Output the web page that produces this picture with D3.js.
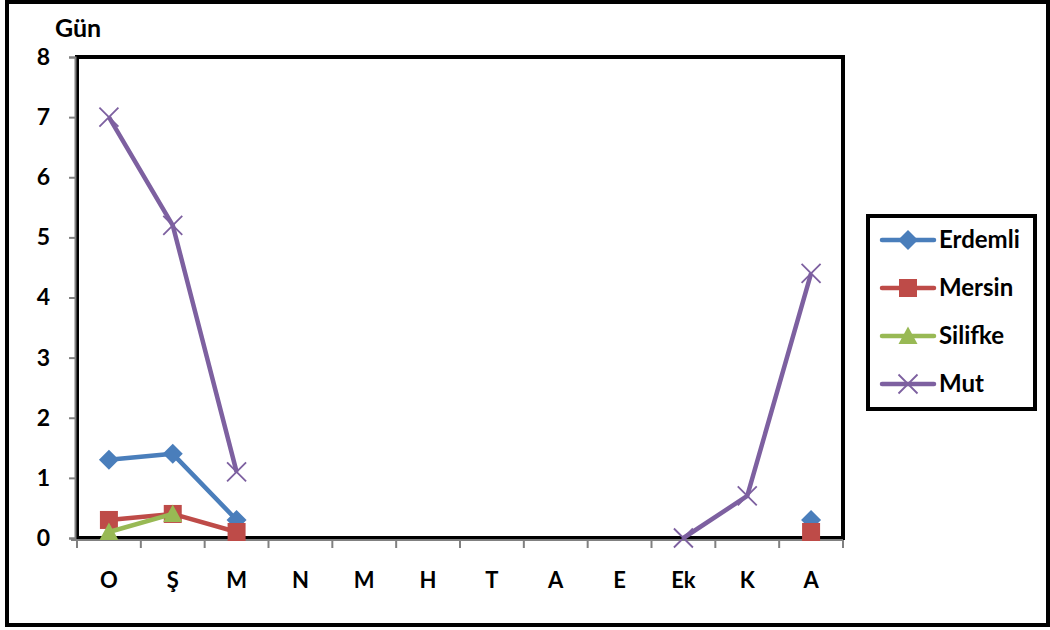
<!DOCTYPE html>
<html>
<head>
<meta charset="utf-8">
<script src="https://cdn.jsdelivr.net/npm/d3@7"></script>
<style>
  html, body { margin: 0; padding: 0; background: #fff; }
  svg { display: block; font-family: Lato, "Open Sans", "DejaVu Sans", sans-serif; font-weight: bold; }
</style>
</head>
<body>
<svg id="chart" width="1050" height="630"></svg>
<script>
// Months (Ekim..Eylül order as shown on the axis)
const months = ["O", "Ş", "M", "N", "M", "H", "T", "A", "E", "Ek", "K", "A"];
const yTicks = [0, 1, 2, 3, 4, 5, 6, 7, 8];

// Days per month for each station (null = no value)
const erdemli = [1.3, 1.4, 0.3, null, null, null, null, null, null, null, null, 0.3];
const mersin  = [0.3, 0.4, 0.1, null, null, null, null, null, null, null, null, 0.1];
const silifke = [0.1, 0.4, null, null, null, null, null, null, null, null, null, null];
const mut     = [7, 5.2, 1.1, null, null, null, null, null, null, 0, 0.7, 4.4];

const seriesNames = ["Erdemli", "Mersin", "Silifke", "Mut"];
const seriesValues = [erdemli, mersin, silifke, mut];
const seriesColors = ["#4a7ebb", "#be4b48", "#98b954", "#7d60a0"];
const seriesMarkers = ["diamond", "square", "triangle", "cross"];

const svg = d3.select("#chart");
const plot = { left: 77, top: 57, right: 843, bottom: 538 };
const FONT = "Lato, 'Open Sans', sans-serif";

// Outer frame
svg.append("rect").attr("x", 7).attr("y", 2).attr("width", 1041).attr("height", 623)
  .attr("fill", "#fff").attr("stroke", "#000").attr("stroke-width", 4);

const x = d3.scaleBand().domain(d3.range(months.length)).range([plot.left, plot.right]);
const y = d3.scaleLinear().domain([0, 8]).range([plot.bottom, plot.top]);

// Plot area border
svg.append("rect").attr("x", plot.left).attr("y", plot.top)
  .attr("width", plot.right - plot.left).attr("height", plot.bottom - plot.top)
  .attr("fill", "none").attr("stroke", "#000").attr("stroke-width", 4);

// Y axis
const yAxis = svg.append("g").attr("transform", `translate(${plot.left - 2},0)`)
  .call(d3.axisLeft(y).tickValues(yTicks).tickSize(6).tickPadding(19).tickFormat(d3.format("d")));
yAxis.select(".domain").attr("stroke", "#808080").attr("stroke-width", 2);
yAxis.selectAll(".tick line").attr("stroke", "#808080").attr("stroke-width", 2);
yAxis.selectAll("text").attr("font-size", 23).attr("font-weight", "bold")
  .attr("font-family", FONT).attr("fill", "#000");

// X axis: ticks at category boundaries, labels centred in each band
const xg = svg.append("g").attr("transform", `translate(0,${plot.bottom + 2})`);
xg.append("line").attr("x1", plot.left - 6).attr("x2", plot.right)
  .attr("stroke", "#808080").attr("stroke-width", 2);
const bounds = d3.range(months.length + 1).map(i => i < months.length ? x(i) : x(months.length - 1) + x.bandwidth());
xg.selectAll("line.tk").data(bounds).join("line").attr("class", "tk")
  .attr("x1", d => d).attr("x2", d => d).attr("y1", 0).attr("y2", 8)
  .attr("stroke", "#808080").attr("stroke-width", 2);
xg.selectAll("text").data(months).join("text")
  .attr("x", (d, i) => x(i) + x.bandwidth() / 2).attr("y", 48)
  .attr("text-anchor", "middle").attr("font-size", 22).attr("fill", "#000").text(d => d);

// Axis title
svg.append("text").attr("x", 55).attr("y", 37).attr("font-size", 25).attr("fill", "#000").text("Gün");

// Marker drawing helper
function marker(g, type, color) {
  if (type === "diamond") {
    const s = 10;
    g.append("path").attr("d", `M0,${-s}L${s},0L0,${s}L${-s},0Z`).attr("fill", color);
  } else if (type === "square") {
    const s = 9;
    g.append("rect").attr("x", -s).attr("y", -s).attr("width", 2 * s).attr("height", 2 * s).attr("fill", color);
  } else if (type === "triangle") {
    const s = 9.5;
    g.append("path").attr("d", `M0,${-s}L${s},${s * 0.85}L${-s},${s * 0.85}Z`).attr("fill", color);
  } else {
    const s = 9.5;
    g.append("path").attr("d", `M${-s},${-s}L${s},${s}M${-s},${s}L${s},${-s}`)
      .attr("stroke", color).attr("stroke-width", 1.8).attr("fill", "none");
  }
}

const line = d3.line()
  .defined(d => d.v !== null)
  .x(d => x(d.i) + x.bandwidth() / 2)
  .y(d => y(d.v));

seriesValues.forEach((vals, k) => {
  const pts = vals.map((v, i) => ({ i, v }));
  const g = svg.append("g");
  g.append("path").datum(pts).attr("d", line).attr("fill", "none")
    .attr("stroke", seriesColors[k]).attr("stroke-width", 4.5).attr("stroke-linejoin", "round");
  pts.filter(d => d.v !== null).forEach(d => {
    const m = g.append("g").attr("transform", `translate(${x(d.i) + x.bandwidth() / 2},${y(d.v)})`);
    marker(m, seriesMarkers[k], seriesColors[k]);
  });
});

// Legend
const lg = svg.append("g");
lg.append("rect").attr("x", 868).attr("y", 216).attr("width", 167).attr("height", 193)
  .attr("fill", "#fff").attr("stroke", "#000").attr("stroke-width", 4);
seriesNames.forEach((name, k) => {
  const cy = 240 + k * 48;
  lg.append("line").attr("x1", 882).attr("x2", 934).attr("y1", cy).attr("y2", cy)
    .attr("stroke", seriesColors[k]).attr("stroke-width", 4.5).attr("stroke-linecap", "round");
  const m = lg.append("g").attr("transform", `translate(908,${cy})`);
  marker(m, seriesMarkers[k], seriesColors[k]);
  lg.append("text").attr("x", 939).attr("y", cy + 8).attr("font-size", 24).attr("fill", "#000").text(name);
});
</script>
</body>
</html>
